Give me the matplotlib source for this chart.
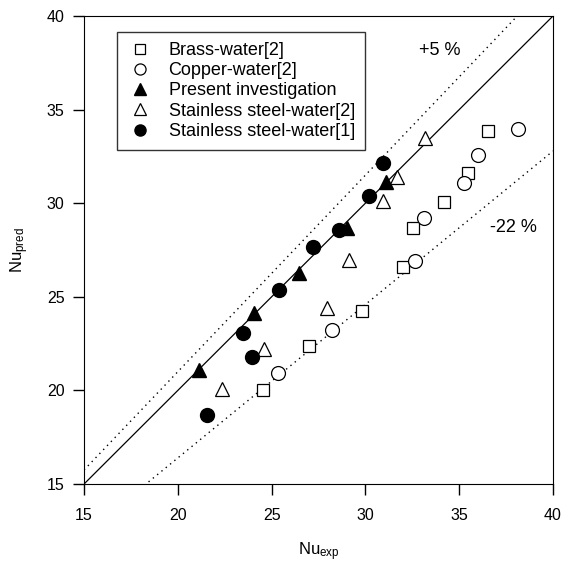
import numpy as np
import matplotlib.pyplot as plt

plt.rcParams['font.family'] = ['Liberation Sans', 'DejaVu Sans']
plt.rcParams['mathtext.default'] = 'regular'

# data
brass_x = [24.56, 27.01, 29.80, 31.98, 32.56, 34.19, 35.49, 36.51]
brass_y = [20.02, 22.39, 24.26, 26.61, 28.69, 30.08, 31.63, 33.87]

copper_x = [25.36, 28.20, 32.64, 33.12, 35.27, 36.02, 38.15]
copper_y = [20.95, 23.23, 26.93, 29.19, 31.06, 32.57, 33.95]

present_x = [21.15, 24.06, 26.46, 29.00, 31.10]
present_y = [21.09, 24.15, 26.29, 28.66, 31.15]

ss2_x = [22.33, 24.60, 27.97, 29.14, 30.96, 31.70, 33.18]
ss2_y = [20.06, 22.21, 24.39, 26.97, 30.13, 31.42, 33.47]

ss1_x = [21.57, 23.49, 23.94, 25.39, 27.19, 28.61, 30.19, 30.93]
ss1_y = [18.69, 23.05, 21.80, 25.36, 27.64, 28.57, 30.40, 32.13]

upper = 1.05
lower = 1 / 1.22

fig = plt.figure(figsize=(5.64, 5.63), dpi=100)
ax = fig.add_axes([0.149, 0.1403, 0.8315, 0.8313])

# reference lines
xl = np.array([15, 40])
ax.plot(xl, xl, color='black', lw=0.9, zorder=1)
ax.plot(xl, xl * upper, color='black', lw=1.0, ls=(0, (1, 3)), zorder=1)
ax.plot(xl, xl * lower, color='black', lw=1.0, ls=(0, (1, 3)), zorder=1)

ms = 10
ax.plot(brass_x, brass_y, 's', ms=ms - 1, mfc='white', mec='black', mew=0.9,
        ls='none', label='Brass-water[2]')
ax.plot(copper_x, copper_y, 'o', ms=ms, mfc='white', mec='black', mew=0.9,
        ls='none', label='Copper-water[2]')
ax.plot(present_x, present_y, '^', ms=ms, mfc='black', mec='black',
        ls='none', label='Present investigation')
ax.plot(ss2_x, ss2_y, '^', ms=ms, mfc='white', mec='black', mew=0.9,
        ls='none', label='Stainless steel-water[2]')
ax.plot(ss1_x, ss1_y, 'o', ms=ms, mfc='black', mec='black',
        ls='none', label='Stainless steel-water[1]')

ax.set_xlim(15, 40)
ax.set_ylim(15, 40)
ax.set_xticks(range(15, 41, 5))
ax.set_yticks(range(15, 41, 5))
ax.tick_params(direction='out', length=8, width=1, labelsize=11.5,
               top=False, right=False)
ax.tick_params(axis='x', pad=9)
ax.tick_params(axis='y', pad=6)

ax.set_xlabel('Nu$_{exp}$', fontsize=12, labelpad=13)
ax.set_ylabel('Nu$_{pred}$', fontsize=12, labelpad=11)

ax.text(33.98, 38.18, '+5 %', fontsize=13, ha='center', va='center')
ax.text(37.87, 28.68, '-22 %', fontsize=13, ha='center', va='center')

leg = ax.legend(loc='upper left', bbox_to_anchor=(0.0704, 0.966), fontsize=13,
                frameon=True, fancybox=False, edgecolor='black',
                borderaxespad=0, handletextpad=0.9, labelspacing=0.18,
                borderpad=0.55, handlelength=1.4, markerscale=0.8)
leg.get_frame().set_linewidth(1.0)

fig.savefig('out.png', dpi=100)
